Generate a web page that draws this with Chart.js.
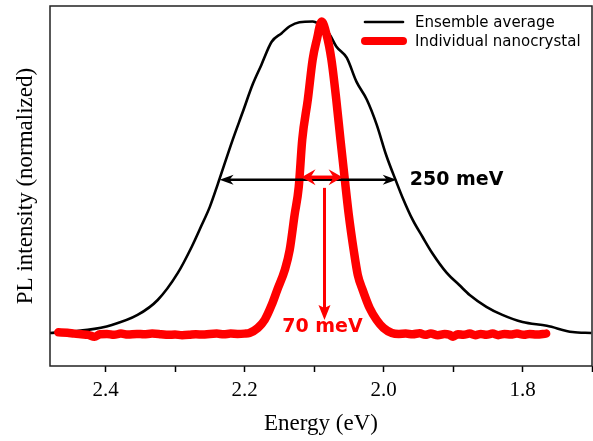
<!DOCTYPE html>
<html>
<head>
<meta charset="utf-8">
<script src="https://cdn.jsdelivr.net/npm/chart.js@4"></script>
<style>
  body { margin: 0; background: #fff; }
  canvas { display: block; }
</style>
</head>
<body>
<canvas id="chart" width="593" height="441"></canvas>
<script>
'use strict';

// Ensemble average spectrum (energy in eV, normalized PL)
const ensembleEnergy = [2.481, 2.426, 2.391, 2.354, 2.325, 2.296, 2.276, 2.262, 2.250, 2.239,
  2.217, 2.203, 2.188, 2.176, 2.161, 2.147, 2.135, 2.121, 2.102, 2.092, 2.078, 2.068, 2.053,
  2.039, 2.024, 2.010, 1.996, 1.981, 1.973, 1.958, 1.944, 1.930, 1.909, 1.891, 1.876, 1.852,
  1.829, 1.800, 1.765, 1.728, 1.701];
const ensembleIntensity = [0, 0.010, 0.026, 0.058, 0.106, 0.193, 0.277, 0.345, 0.405, 0.475,
  0.621, 0.707, 0.800, 0.860, 0.935, 0.962, 0.985, 0.998, 1.0, 0.99, 0.96, 0.92, 0.884,
  0.807, 0.749, 0.670, 0.570, 0.482, 0.437, 0.363, 0.309, 0.257, 0.193, 0.154, 0.122, 0.084,
  0.058, 0.035, 0.023, 0.003, 0];

// Individual nanocrystal spectrum
const crystalEnergy = [2.468, 2.455, 2.445, 2.435, 2.425, 2.416, 2.408, 2.398, 2.388, 2.378,
  2.368, 2.355, 2.345, 2.333, 2.320, 2.310, 2.300, 2.290, 2.280, 2.270, 2.260, 2.250, 2.240,
  2.230, 2.220, 2.210, 2.200, 2.193, 2.181, 2.171, 2.161, 2.153, 2.142, 2.135, 2.128, 2.122,
  2.117, 2.109, 2.102, 2.096, 2.089, 2.082, 2.075, 2.068, 2.062, 2.056, 2.050, 2.043, 2.037,
  2.030, 2.020, 2.010, 2.000, 1.988, 1.978, 1.968, 1.958, 1.948, 1.940, 1.932, 1.922, 1.912,
  1.905, 1.900, 1.893, 1.885, 1.876, 1.868, 1.860, 1.852, 1.843, 1.835, 1.826, 1.817, 1.808,
  1.798, 1.790, 1.780, 1.766];
const crystalIntensity = [0.002, 0.001, -0.002, -0.004, -0.006, -0.012, -0.004, -0.003, -0.006, -0.002,
  -0.005, -0.003, -0.004, -0.002, -0.004, -0.006, -0.005, -0.007, -0.006, -0.004, -0.005, -0.003, -0.002,
  -0.004, -0.002, -0.003, -0.002, 0, 0.016, 0.042, 0.090, 0.138, 0.203, 0.267, 0.379, 0.469,
  0.621, 0.749, 0.878, 0.942, 1.0, 0.958, 0.878, 0.749, 0.621, 0.498, 0.379, 0.267, 0.186,
  0.138, 0.080, 0.042, 0.016, 0, -0.003, -0.002, -0.004, -0.001, -0.006, -0.002, -0.007, -0.003,
  -0.006, -0.012, -0.004, -0.006, -0.002, -0.007, -0.003, -0.006, -0.002, -0.007, -0.003, -0.005, -0.002,
  -0.006, -0.003, -0.005, -0.002];

const seriesLabels = ['Ensemble average', 'Individual nanocrystal'];
const xTickValues = [1.7, 1.8, 1.9, 2.0, 2.1, 2.2, 2.3, 2.4];
const xLabelled = [1.8, 2.0, 2.2, 2.4];

// FWHM markers: [high energy, low energy], level, label
const ensembleFwhm = [2.236, 1.981];
const ensembleFwhmLevel = 0.492;
const ensembleFwhmLabel = '250 meV';
const crystalFwhm = [2.118, 2.059];
const crystalFwhmLevel = 0.50;
const crystalPointer = [2.085, 0.466, 0.042]; // energy, from, to
const crystalFwhmLabel = '70 meV';
const crystalLabelPos = [2.088, 0.019];

const black = '#000000';
const red = '#ff0000';

function toPoints(xs, ys) {
  return xs.map((x, i) => ({ x: x, y: ys[i] }));
}

function arrowHead(ctx, tx, ty, angle, len, halfW, notch) {
  ctx.save();
  ctx.translate(tx, ty);
  ctx.rotate(angle);
  ctx.beginPath();
  ctx.moveTo(0, 0);
  ctx.lineTo(-len, -halfW);
  ctx.lineTo(-len + notch, 0);
  ctx.lineTo(-len, halfW);
  ctx.closePath();
  ctx.fill();
  ctx.restore();
}

const framePlugin = {
  id: 'frame',
  afterDatasetsDraw(chart) {
    const { ctx, chartArea: a } = chart;
    ctx.save();
    ctx.strokeStyle = '#222';
    ctx.lineWidth = 1.5;
    ctx.strokeRect(a.left, a.top, a.right - a.left, a.bottom - a.top);
    ctx.restore();
  }
};

const notesPlugin = {
  id: 'notes',
  afterDatasetsDraw(chart) {
    const ctx = chart.ctx;
    const xs = chart.scales.x;
    const ys = chart.scales.y;
    ctx.save();

    // ensemble FWHM double arrow
    let x1 = xs.getPixelForValue(ensembleFwhm[0]);
    let x2 = xs.getPixelForValue(ensembleFwhm[1]);
    let y = ys.getPixelForValue(ensembleFwhmLevel);
    ctx.strokeStyle = black;
    ctx.fillStyle = black;
    ctx.lineWidth = 2.5;
    ctx.beginPath();
    ctx.moveTo(x1 + 8, y);
    ctx.lineTo(x2 - 8, y);
    ctx.stroke();
    arrowHead(ctx, x1, y, Math.PI, 14, 5, 4);
    arrowHead(ctx, x2, y, 0, 14, 5, 4);
    ctx.font = 'bold 19px "DejaVu Sans"';
    ctx.textBaseline = 'middle';
    ctx.textAlign = 'left';
    ctx.fillText(ensembleFwhmLabel, x2 + 13, y);

    // nanocrystal FWHM arrows
    x1 = xs.getPixelForValue(crystalFwhm[0]);
    x2 = xs.getPixelForValue(crystalFwhm[1]);
    y = ys.getPixelForValue(crystalFwhmLevel);
    ctx.strokeStyle = red;
    ctx.fillStyle = red;
    ctx.lineWidth = 3.5;
    ctx.beginPath();
    ctx.moveTo(x1 + 6, y);
    ctx.lineTo(x2 - 6, y);
    ctx.stroke();
    arrowHead(ctx, x1, y, Math.PI, 14, 8, 5);
    arrowHead(ctx, x2, y, 0, 14, 8, 5);

    const px = xs.getPixelForValue(crystalPointer[0]);
    const py1 = ys.getPixelForValue(crystalPointer[1]);
    const py2 = ys.getPixelForValue(crystalPointer[2]);
    ctx.lineWidth = 3;
    ctx.beginPath();
    ctx.moveTo(px, py1);
    ctx.lineTo(px, py2 - 8);
    ctx.stroke();
    arrowHead(ctx, px, py2, Math.PI / 2, 15, 6, 3);

    ctx.textAlign = 'center';
    ctx.fillText(crystalFwhmLabel,
      xs.getPixelForValue(crystalLabelPos[0]), ys.getPixelForValue(crystalLabelPos[1]));
    ctx.restore();
  }
};

const legendPlugin = {
  id: 'insideLegend',
  afterDraw(chart) {
    const { ctx, chartArea: a } = chart;
    const styles = [
      { color: black, width: 2.6 },
      { color: red, width: 8 }
    ];
    const rows = [a.top + 16, a.top + 35];
    ctx.save();
    ctx.font = '15px "DejaVu Sans"';
    ctx.textBaseline = 'middle';
    ctx.textAlign = 'left';
    seriesLabels.forEach((label, i) => {
      const yy = rows[i];
      ctx.strokeStyle = styles[i].color;
      ctx.lineWidth = styles[i].width;
      ctx.lineCap = 'round';
      ctx.beginPath();
      ctx.moveTo(a.right - 227, yy);
      ctx.lineTo(a.right - 189, yy);
      ctx.stroke();
      ctx.fillStyle = '#000';
      ctx.fillText(label, a.right - 177, yy + 1);
    });
    ctx.restore();
  }
};

function renderChart() {
  const ctx = document.getElementById('chart').getContext('2d');
  new Chart(ctx, {
    type: 'line',
    data: {
      datasets: [
        {
          label: seriesLabels[0],
          data: toPoints(ensembleEnergy, ensembleIntensity),
          borderColor: black,
          borderWidth: 2.6,
          pointRadius: 0,
          cubicInterpolationMode: 'monotone',
          fill: false,
          order: 1
        },
        {
          label: seriesLabels[1],
          data: toPoints(crystalEnergy, crystalIntensity),
          borderColor: red,
          borderWidth: 8.5,
          borderCapStyle: 'round',
          borderJoinStyle: 'round',
          pointRadius: 0,
          cubicInterpolationMode: 'monotone',
          fill: false,
          order: 0
        }
      ]
    },
    options: {
      responsive: false,
      animation: false,
      devicePixelRatio: 1,
      layout: { padding: { top: 6, right: 1, left: 0, bottom: 0 } },
      plugins: {
        legend: { display: false },
        tooltip: { enabled: false }
      },
      scales: {
        x: {
          type: 'linear',
          reverse: true,
          min: 1.7,
          max: 2.48,
          afterBuildTicks: scale => {
            scale.ticks = xTickValues.map(v => ({ value: v }));
          },
          afterFit: scale => { scale.height = 75; },
          border: { display: false },
          grid: {
            drawOnChartArea: false,
            drawTicks: true,
            tickLength: 6,
            tickWidth: 1.5,
            color: '#000'
          },
          ticks: {
            padding: 6,
            color: '#000',
            font: { family: '"Liberation Serif"', size: 21 },
            callback: value => xLabelled.some(v => Math.abs(v - value) < 1e-6) ? value.toFixed(1) : ''
          },
          title: {
            display: true,
            text: 'Energy (eV)',
            color: '#000',
            font: { family: '"Liberation Serif"', size: 23 },
            padding: { top: 0, bottom: 3 }
          }
        },
        y: {
          type: 'linear',
          min: -0.106,
          max: 1.05,
          afterFit: scale => { scale.width = 50; },
          border: { display: false },
          grid: { display: false },
          ticks: { display: false },
          title: {
            display: true,
            text: 'PL intensity (normalized)',
            color: '#000',
            font: { family: '"Liberation Serif"', size: 23 },
            padding: { top: 12, bottom: 0 }
          }
        }
      }
    },
    plugins: [framePlugin, notesPlugin, legendPlugin]
  });
}

document.addEventListener('DOMContentLoaded', renderChart);
</script>
</body>
</html>
